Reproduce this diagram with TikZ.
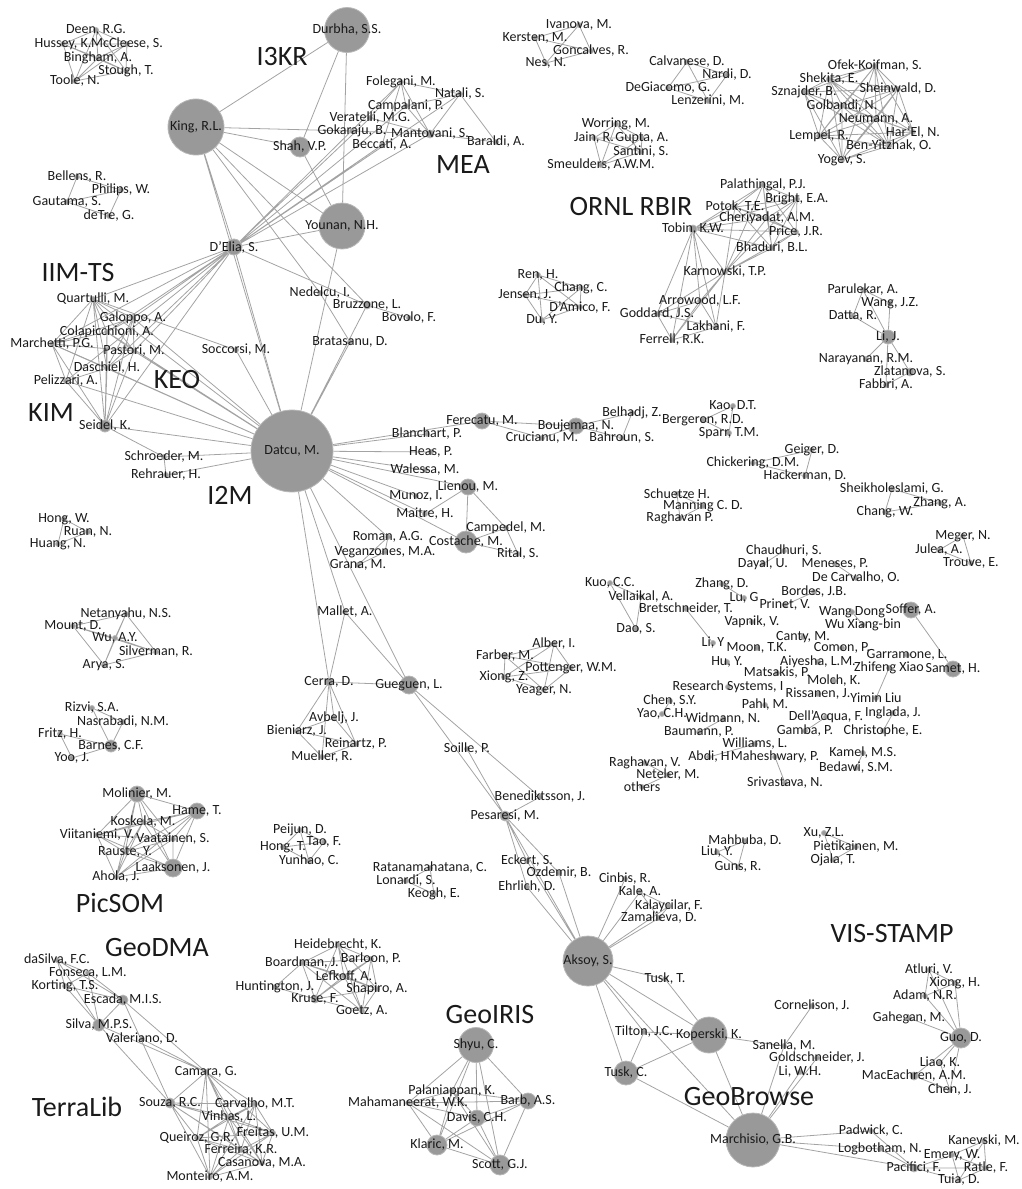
\documentclass[tikz,border=0pt]{standalone}
\usepackage{fontspec}
\setmainfont{Carlito}
\usetikzlibrary{backgrounds}
\definecolor{bubble}{HTML}{999999}
\definecolor{rim}{HTML}{B8B8B8}
\definecolor{wire}{HTML}{A3A3A3}
\definecolor{ink}{HTML}{1A1A1A}

\begin{document}
\begin{tikzpicture}[x=1pt, y=-1pt,
    au/.style={circle, fill=bubble, draw=rim, line width=0.8pt, inner sep=0pt, minimum size=5pt, label={[who]center:#1}},
    who/.style={font=\fontsize{14}{14}\selectfont, text=ink, inner sep=0pt},
    grp/.style={font=\fontsize{28}{28}\selectfont, text=ink, inner sep=0pt},
    link/.style={draw=wire, line width=0.8pt}
]
\useasboundingbox (0,0) rectangle (1022,1189);

% group names
\node[grp] (i3kr) at (282,57) {I3KR};
\node[grp] (mea) at (463,165) {MEA};
\node[grp] (ornl) at (631,207) {ORNL RBIR};
\node[grp] (iimts) at (78,273) {IIM-TS};
\node[grp] (keo) at (177,380) {KEO};
\node[grp] (kim) at (51,413) {KIM};
\node[grp] (i2m) at (230,495) {I2M};
\node[grp] (picsom) at (120,903) {PicSOM};
\node[grp] (geodma) at (157,947) {GeoDMA};
\node[grp] (terralib) at (77,1107) {TerraLib};
\node[grp] (geoiris) at (490,1014) {GeoIRIS};
\node[grp] (visstamp) at (892,933) {VIS-STAMP};
\node[grp] (geobrowse) at (749,1097) {GeoBrowse};

% top left
\node[au={Deen, R.G.}] (deen) at (96,30) {};
\node[au={Hussey, K.}] (huss) at (63,44) {};
\node[au={McCleese, S.}] (mccl) at (127,44) {};
\node[au={Bingham, A.}] (bing) at (98,58) {};
\node[au={Stough, T.}] (stou) at (126,71) {};
\node[au={Toole, N.}] (tool) at (75,81) {};
\node[au={Bellens, R.}] (bell) at (77,177) {};
\node[au={Philips, W.}] (phil) at (121,190) {};
\node[au={Gautama, S.}] (gaut) at (67,202) {};
\node[au={deTre, G.}] (detr) at (109,216) {};

% I3KR and MEA
\node[au={King, R.L.}, minimum size=56pt] (kin) at (196,127) {};
\node[au={Durbha, S.S.}, minimum size=45pt] (dur) at (347,30) {};
\node[au={Shah, V.P.}, minimum size=20pt] (sha) at (300,147) {};
\node[au={Younan, N.H.}, minimum size=46pt] (you) at (342,226) {};
\node[au={Gokaraju, B.}] (gok) at (352,131) {};
\node[au={Folegani, M.}] (fol) at (401,82) {};
\node[au={Natali, S.}] (nat) at (460,94) {};
\node[au={Campalani, P.}] (cmp) at (406,106) {};
\node[au={Veratelli, M.G.}] (ver) at (370,118) {};
\node[au={Mantovani, S.}, minimum size=8pt] (mnt) at (430,134) {};
\node[au={Baraldi, A.}] (bara) at (496,142) {};
\node[au={Beccati, A.}] (bec) at (382,145) {};
\node[au={Nedelcu, I.}] (ned) at (320,293) {};
\node[au={Bruzzone, L.}, minimum size=8pt] (bru) at (367,305) {};
\node[au={Bovolo, F.}] (bov) at (409,318) {};
\node[au={Bratasanu, D.}] (brt) at (350,342) {};
\node[au={D'Elia, S.}, minimum size=16pt] (del) at (234,247) {};

% IIM-TS, KEO, KIM
\node[au={Quartulli, M.}] (qua) at (93,299) {};
\node[au={Galoppo, A.}] (gal) at (133,318) {};
\node[au={Colapicchioni, A.}] (col) at (107,332) {};
\node[au={Marchetti, P.G.}] (mch) at (52,344) {};
\node[au={Pastori, M.}] (pas) at (134,351) {};
\node[au={Daschiel, H.}] (das) at (107,368) {};
\node[au={Pelizzari, A.}] (pel) at (66,381) {};
\node[au={Soccorsi, M.}] (soc) at (236,350) {};
\node[au={Seidel, K.}, minimum size=12pt] (sei) at (105,426) {};
\node[au={Schroeder, M.}] (sch) at (164,457) {};
\node[au={Rehrauer, H.}] (reh) at (166,475) {};

% I2M
\node[au={Datcu, M.}, minimum size=82pt] (dat) at (292,451) {};
\node[au={Ferecatu, M.}, minimum size=16pt] (fec) at (482,421) {};
\node[au={Blanchart, P.}] (bla) at (427,434) {};
\node[au={Heas, P.}] (hea) at (431,452) {};
\node[au={Walessa, M.}] (wal) at (425,470) {};
\node[au={Lienou, M.}, minimum size=16pt] (lie) at (468,487) {};
\node[au={Munoz, I.}] (mun) at (416,496) {};
\node[au={Maitre, H.}] (mai) at (425,514) {};
\node[au={Campedel, M.}] (cpd) at (506,528) {};
\node[au={Roman, A.G.}] (rom) at (388,537) {};
\node[au={Costache, M.}, minimum size=22pt] (cst) at (466,542) {};
\node[au={Rital, S.}] (rit) at (518,554) {};
\node[au={Veganzones, M.A.}] (veg) at (385,552) {};
\node[au={Grana, M.}] (gra) at (358,565) {};
\node[au={Boujemaa, N.}, minimum size=16pt] (bou) at (576,426) {};
\node[au={Crucianu, M.}] (cru) at (542,438) {};
\node[au={Belhadj, Z.}] (bel) at (632,413) {};
\node[au={Bahroun, S.}] (bah) at (622,438) {};
\node[au={Mallet, A.}] (mal) at (345,612) {};
\node[au={Cerra, D.}, minimum size=8pt] (cer) at (329,682) {};
\node[au={Gueguen, L.}, minimum size=18pt] (gue) at (409,685) {};
\node[au={Avbelj, J.}] (avb) at (334,718) {};
\node[au={Bieniarz, J.}] (bie) at (297,731) {};
\node[au={Reinartz, P.}] (rei) at (356,744) {};
\node[au={Mueller, R.}] (mue) at (322,757) {};
\node[au={Soille, P.}] (soi) at (467,749) {};

% top middle
\node[au={Ivanova, M.}] (iva) at (579,25) {};
\node[au={Kersten, M.}] (ker) at (535,38) {};
\node[au={Goncalves, R.}] (gon) at (591,51) {};
\node[au={Nes, N.}] (nes) at (546,63) {};
\node[au={Calvanese, D.}] (cal) at (687,62) {};
\node[au={Nardi, D.}] (nar) at (727,75) {};
\node[au={DeGiacomo, G.}] (deg) at (668,88) {};
\node[au={Lenzerini, M.}] (len) at (708,101) {};
\node[au={Worring, M.}] (wor) at (616,124) {};
\node[au={Jain, R.}] (jai) at (594,138) {};
\node[au={Gupta, A.}] (gup) at (642,138) {};
\node[au={Santini, S.}] (san) at (641,152) {};
\node[au={Smeulders, A.W.M.}] (sme) at (601,165) {};

% ORNL RBIR
\node[au={Palathingal, P.J.}] (pal) at (763,185) {};
\node[au={Bright, E.A.}] (bri) at (797,199) {};
\node[au={Potok, T.E.}] (pot) at (735,207) {};
\node[au={Cheriyadat, A.M.}] (che) at (767,218) {};
\node[au={Price, J.R.}] (pri) at (796,232) {};
\node[au={Bhaduri, B.L.}] (bha) at (772,248) {};
\node[au={Tobin, K.W.}, minimum size=8pt] (tob) at (693,229) {};
\node[au={Karnowski, T.P.}] (kar) at (725,272) {};
\node[au={Arrowood, L.F.}] (arr) at (700,301) {};
\node[au={Goddard, J.S.}] (god) at (657,314) {};
\node[au={Lakhani, F.}] (lak) at (716,327) {};
\node[au={Ferrell, R.K.}] (frl) at (672,340) {};
\node[au={Ren, H.}] (ren) at (538,275) {};
\node[au={Chang, C.}] (chc) at (581,288) {};
\node[au={Jensen, J.}] (jen) at (525,295) {};
\node[au={D'Amico, F.}] (dam) at (580,307) {};
\node[au={Du, Y.}] (duy) at (542,320) {};

% top right
\node[au={Ofek-Koifman, S.}] (ofe) at (875,66) {};
\node[au={Shekita, E.}] (shk) at (829,79) {};
\node[au={Sheinwald, D.}] (shw) at (898,89) {};
\node[au={Sznajder, B.}] (szn) at (804,92) {};
\node[au={Golbandi, N.}] (golb) at (842,106) {};
\node[au={Neumann, A.}] (neu) at (876,119) {};
\node[au={Har'El, N.}] (har) at (913,132) {};
\node[au={Lempel, R.}] (lem) at (819,136) {};
\node[au={Ben-Yitzhak, O.}] (bey) at (889,146) {};
\node[au={Yogev, S.}] (yog) at (842,160) {};
\node[au={Parulekar, A.}] (par) at (863,290) {};
\node[au={Wang, J.Z.}] (wjz) at (890,303) {};
\node[au={Datta, R.}] (dtt) at (853,316) {};
\node[au={Li, J.}, minimum size=14pt] (lij) at (888,337) {};
\node[au={Narayanan, R.M.}] (nry) at (866,359) {};
\node[au={Zlatanova, S.}, minimum size=8pt] (zla) at (910,372) {};
\node[au={Fabbri, A.}] (fab) at (886,385) {};

% middle right
\node[au={Kao, D.T.}] (kao) at (733,406) {};
\node[au={Bergeron, R.D.}] (brg) at (703,420) {};
\node[au={Sparr, T.M.}] (spa) at (729,433) {};
\node[au={Chickering, D.M.}] (chi) at (753,463) {};
\node[au={Geiger, D.}] (gei) at (812,450) {};
\node[au={Hackerman, D.}] (hac) at (805,476) {};
\node[au={Sheikholeslami, G.}] (shl) at (892,489) {};
\node[au={Zhang, A.}] (zan) at (940,503) {};
\node[au={Chang, W.}] (chw) at (885,512) {};
\node[au={Schuetze H.}] (scz) at (677,494) {};
\node[au={Manning C. D.}] (mnn) at (703,506) {};
\node[au={Raghavan P.}] (rgp) at (680,518) {};
\node[au={Meger, N.}] (meg) at (963,536) {};
\node[au={Julea, A.}] (jul) at (939,550) {};
\node[au={Trouve, E.}] (tro) at (971,563) {};
\node[au={Chaudhuri, S.}] (chau) at (784,551) {};
\node[au={Dayal, U.}] (day) at (763,564) {};
\node[au={Meneses, P.}] (men) at (835,564) {};
\node[au={De Carvalho, O.}] (dec) at (856,578) {};
\node[au={Kuo, C.C.}] (kuo) at (610,583) {};
\node[au={Vellaikal, A.}] (vel) at (641,597) {};
\node[au={Dao, S.}] (dao) at (636,629) {};
\node[au={Zhang, D.}] (zhd) at (722,584) {};
\node[au={Lu, G}] (lug) at (744,598) {};
\node[au={Bordes, J.B.}] (bor) at (814,592) {};
\node[au={Prinet, V.}] (prn) at (785,605) {};
\node[au={Bretschneider, T.}] (bre) at (686,609) {};
\node[au={Vapnik, V.}] (vap) at (752,622) {};
\node[au={Wang Dong}] (wdo) at (852,612) {};
\node[au={Wu Xiang-bin}] (wux) at (863,625) {};
\node[au={Soffer, A.}, minimum size=16pt] (sof) at (911,610) {};
\node[au={Samet, H.}, minimum size=16pt] (sam) at (953,669) {};
\node[au={Canty, M.}] (can) at (803,637) {};
\node[au={Li, Y}] (liy) at (713,643) {};
\node[au={Moon, T.K.}] (moo) at (757,648) {};
\node[au={Comon, P.}] (com) at (842,648) {};
\node[au={Garramone, L.}] (gar) at (907,655) {};
\node[au={Hu, Y.}] (huy) at (727,662) {};
\node[au={Aiyesha, L.M.}] (aiy) at (818,662) {};
\node[au={Zhifeng Xiao}] (zfx) at (889,668) {};
\node[au={Matsakis, P.}] (mat) at (777,673) {};
\node[au={Molch, K.}] (mlc) at (834,681) {};
\node[au={Research Systems, I}] (res) at (728,687) {};
\node[au={Rissanen, J.}] (ris) at (818,694) {};
\node[au={Yimin Liu}] (yml) at (876,698) {};
\node[au={Chen, S.Y.}] (csy) at (670,701) {};
\node[au={Pahl, M.}] (pahl) at (765,705) {};
\node[au={Yao, C.H.}] (yao) at (662,714) {};
\node[au={Inglada, J.}] (ing) at (893,713) {};
\node[au={Dell'Acqua, F.}] (dla) at (826,717) {};
\node[au={Widmann, N.}] (wid) at (723,719) {};
\node[au={Gamba, P.}] (gam) at (805,731) {};
\node[au={Christophe, E.}] (chr) at (883,731) {};
\node[au={Baumann, P.}] (bau) at (699,732) {};
\node[au={Williams, L.}] (wil) at (755,744) {};
\node[au={Kamel, M.S.}] (kam) at (863,753) {};
\node[au={Abdi, H}] (abd) at (709,757) {};
\node[au={Maheshwary, P.}] (mah) at (775,757) {};
\node[au={Raghavan, V.}] (rgv) at (645,763) {};
\node[au={Bedawi, S.M.}] (bed) at (856,768) {};
\node[au={Neteler, M.}] (net) at (668,775) {};
\node[au={Srivastava, N.}] (sri) at (785,783) {};
\node[au={others}] (oth) at (642,787) {};
\node[au={Alber, I.}] (alb) at (554,644) {};
\node[au={Farber, M.}] (far) at (505,656) {};
\node[au={Pottenger, W.M.}] (ptg) at (571,668) {};
\node[au={Xiong, Z.}] (xio) at (504,677) {};
\node[au={Yeager, N.}] (yea) at (544,690) {};

% lower left
\node[au={Hong, W.}] (hon) at (64,519) {};
\node[au={Ruan, N.}] (rua) at (88,532) {};
\node[au={Huang, N.}] (hua) at (58,544) {};
\node[au={Netanyahu, N.S.}] (nty) at (126,614) {};
\node[au={Mount, D.}] (mou) at (73,626) {};
\node[au={Wu, A.Y.}] (wua) at (115,638) {};
\node[au={Silverman, R.}] (slm) at (156,652) {};
\node[au={Arya, S.}] (ary) at (104,665) {};
\node[au={Rizvi, S.A.}] (riz) at (92,708) {};
\node[au={Nasrabadi, N.M.}] (nas) at (123,722) {};
\node[au={Fritz, H.}] (fri) at (60,734) {};
\node[au={Barnes, C.F.}, minimum size=12pt] (brn) at (111,746) {};
\node[au={Yoo, J.}] (yoo) at (72,758) {};

% PicSOM
\node[au={Molinier, M.}, minimum size=16pt] (mol) at (137,794) {};
\node[au={Hame, T.}, minimum size=16pt] (ham) at (197,811) {};
\node[au={Koskela, M.}] (kos) at (143,822) {};
\node[au={Viitaniemi, V.}] (vii) at (97,835) {};
\node[au={Vaatainen, S.}] (vaa) at (173,839) {};
\node[au={Rauste, Y.}] (rau) at (125,852) {};
\node[au={Laaksonen, J.}, minimum size=18pt] (laa) at (173,868) {};
\node[au={Ahola, J.}] (aho) at (116,877) {};

% GeoDMA and TerraLib
\node[au={daSilva, F.C.}] (dsf) at (57,960) {};
\node[au={Fonseca, L.M.}] (fon) at (88,973) {};
\node[au={Korting, T.S.}] (kor) at (65,986) {};
\node[au={Escada, M.I.S.}, minimum size=10pt] (esc) at (123,1000) {};
\node[au={Silva, M.P.S.}, minimum size=12pt] (slv) at (99,1025) {};
\node[au={Valeriano, D.}] (val) at (142,1039) {};
\node[au={Camara, G.}] (cam) at (206,1072) {};
\node[au={Souza, R.C.}, minimum size=10pt] (sou) at (170,1103) {};
\node[au={Carvalho, M.T.}] (car) at (255,1104) {};
\node[au={Vinhas, L.}] (vin) at (229,1117) {};
\node[au={Freitas, U.M.}] (fre) at (273,1133) {};
\node[au={Queiroz, G.R.}] (que) at (197,1138) {};
\node[au={Ferreira, K.R.}] (fer) at (241,1150) {};
\node[au={Casanova, M.A.}] (cas) at (262,1163) {};
\node[au={Monteiro, A.M.}] (mon) at (210,1177) {};

% lower middle
\node[au={Peijun, D.}] (pei) at (300,830) {};
\node[au={Hong, T.}] (hot) at (283,847) {};
\node[au={Tao, F.}] (tao) at (324,842) {};
\node[au={Yunhao, C.}] (yun) at (309,861) {};
\node[au={Ratanamahatana, C.}] (rat) at (430,868) {};
\node[au={Lonardi, S.}] (lon) at (406,881) {};
\node[au={Keogh, E.}] (keg) at (434,894) {};
\node[au={Heidebrecht, K.}] (hei) at (338,945) {};
\node[au={Boardman, J.}] (boa) at (302,963) {};
\node[au={Barloon, P.}] (brl) at (371,959) {};
\node[au={Lefkoff, A.}] (lef) at (344,976) {};
\node[au={Huntington, J.}] (hun) at (275,987) {};
\node[au={Shapiro, A.}] (shp) at (377,989) {};
\node[au={Kruse, F.}, minimum size=8pt] (kru) at (315,999) {};
\node[au={Goetz, A.}] (goe) at (362,1011) {};

% GeoIRIS
\node[au={Shyu, C.}, minimum size=35pt] (shy) at (476,1045) {};
\node[au={Palaniappan, K.}] (pln) at (452,1091) {};
\node[au={Mahamaneerat, W.K.}] (mhm) at (408,1103) {};
\node[au={Barb, A.S.}, minimum size=16pt] (bab) at (528,1101) {};
\node[au={Davis, C.H.}, minimum size=16pt] (dav) at (477,1118) {};
\node[au={Klaric, M.}, minimum size=20pt] (kla) at (437,1145) {};
\node[au={Scott, G.J.}, minimum size=20pt] (sco) at (500,1165) {};

% Aksoy and GeoBrowse
\node[au={Benediktsson, J.}] (ben) at (540,797) {};
\node[au={Pesaresi, M.}, minimum size=10pt] (pes) at (505,816) {};
\node[au={Eckert, S.}] (eck) at (527,861) {};
\node[au={Ozdemir, B.}] (ozd) at (559,873) {};
\node[au={Ehrlich, D.}] (ehr) at (527,887) {};
\node[au={Cinbis, R.}] (cin) at (625,879) {};
\node[au={Kale, A.}] (kle) at (640,892) {};
\node[au={Kalaycilar, F.}] (kly) at (669,906) {};
\node[au={Zamalieva, D.}] (zam) at (659,918) {};
\node[au={Aksoy, S.}, minimum size=50pt] (aks) at (588,961) {};
\node[au={Tusk, T.}] (tut) at (665,979) {};
\node[au={Tilton, J.C.}] (til) at (644,1032) {};
\node[au={Koperski, K.}, minimum size=36pt] (kop) at (709,1035) {};
\node[au={Tusk, C.}, minimum size=24pt] (tuc) at (626,1073) {};
\node[au={Marchisio, G.B.}, minimum size=54pt] (mar) at (753,1140) {};
\node[au={Cornelison, J.}] (cor) at (812,1006) {};
\node[au={Sanella, M.}] (snl) at (784,1046) {};
\node[au={Goldschneider, J.}] (gsc) at (817,1058) {};
\node[au={Li, W.H.}] (liw) at (800,1072) {};
\node[au={Padwick, C.}] (pad) at (871,1131) {};
\node[au={Kanevski, M.}] (kan) at (984,1141) {};
\node[au={Logbotham, N.}] (log) at (880,1149) {};
\node[au={Emery, W.}] (eme) at (952,1155) {};
\node[au={Pacifici, F.}, minimum size=8pt] (pac) at (914,1168) {};
\node[au={Ratle, F.}] (rtl) at (986,1168) {};
\node[au={Tuia, D.}] (tui) at (959,1180) {};
\node[au={Mahbuba, D.}] (mhb) at (745,841) {};
\node[au={Liu, Y.}] (liu) at (717,852) {};
\node[au={Guns, R.}] (gun) at (738,867) {};
\node[au={Xu, Z.L.}] (xzl) at (824,833) {};
\node[au={Pietikainen, M.}] (pie) at (856,847) {};
\node[au={Ojala, T.}] (oja) at (833,860) {};

% VIS-STAMP
\node[au={Atluri, V.}] (atl) at (929,970) {};
\node[au={Xiong, H.}] (xih) at (955,983) {};
\node[au={Adam, N.R.}] (ada) at (925,996) {};
\node[au={Gahegan, M.}] (gah) at (909,1018) {};
\node[au={Guo, D.}, minimum size=20pt] (guo) at (961,1038) {};
\node[au={Liao, K.}] (lia) at (940,1063) {};
\node[au={MacEachren, A.M.}, minimum size=8pt] (mac) at (914,1076) {};
\node[au={Chen, J.}] (chj) at (950,1090) {};

\begin{scope}[on background layer]
% top left
\draw[link] (deen)--(huss) (deen)--(mccl) (deen)--(bing) (deen)--(stou) (deen)--(tool)
  (huss)--(mccl) (huss)--(bing) (huss)--(stou) (huss)--(tool) (mccl)--(bing) (mccl)--(stou)
  (mccl)--(tool) (bing)--(stou) (bing)--(tool) (stou)--(tool);
\draw[link] (bell)--(phil) (bell)--(gaut) (gaut)--(phil) (gaut)--(detr) (phil)--(detr);
% I3KR, MEA
\draw[link] (kin)--(dur) (kin)--(sha) (kin)--(you) (kin)--(del) (kin)--(dat) (kin)--(gok)
  (kin)--(bru) (kin)--(ned) (ned)--(brt) (dur)--(sha) (dur)--(you) (sha)--(you);
\draw[link] (del)--(fol) (del)--(nat) (del)--(cmp) (del)--(ver) (del)--(mnt) (del)--(bec)
  (del)--(you) (del)--(dat) (del)--(bru);
\draw[link] (fol)--(nat) (fol)--(cmp) (fol)--(mnt) (fol)--(ver) (fol)--(bec) (nat)--(cmp)
  (nat)--(mnt) (nat)--(bara) (mnt)--(bara) (cmp)--(mnt) (ver)--(mnt) (gok)--(mnt);
\draw[link] (you)--(dat) (bru)--(bov) (bru)--(dat) (brt)--(dat);
% IIM-TS, KEO, KIM
\draw[link] (qua)--(gal) (qua)--(col) (qua)--(mch) (qua)--(pas) (qua)--(das) (qua)--(pel)
  (qua)--(sei) (gal)--(col) (gal)--(pas) (gal)--(das) (gal)--(sei) (gal)--(mch)
  (col)--(mch) (col)--(pas) (col)--(das) (col)--(sei) (mch)--(pas) (mch)--(das) (mch)--(pel)
  (mch)--(sei) (pas)--(das) (pas)--(sei) (das)--(pel) (das)--(sei) (pel)--(sei);
\draw[link] (del)--(qua) (del)--(gal) (del)--(col) (del)--(mch) (del)--(pas) (del)--(das)
  (del)--(pel) (del)--(sei);
\draw[link] (dat)--(qua) (dat)--(gal) (dat)--(col) (dat)--(mch) (dat)--(pas) (dat)--(das)
  (dat)--(pel) (dat)--(sei) (dat)--(soc) (dat)--(sch) (dat)--(reh) (sei)--(sch) (sch)--(reh)
  (soc)--(qua);
% I2M
\draw[link] (dat)--(fec) (dat)--(bla) (dat)--(hea) (dat)--(wal) (dat)--(lie) (dat)--(mun)
  (dat)--(mai) (dat)--(cst) (dat)--(rom) (dat)--(cer) (dat)--(mal) (dat)--(gue);
\draw[link] (fec)--(bou) (fec)--(cru) (bou)--(cru) (bou)--(bel) (bou)--(bah) (bel)--(bah);
\draw[link] (lie)--(cst) (lie)--(cpd) (lie)--(mai) (cst)--(cpd) (cst)--(rit) (cpd)--(rit)
  (rom)--(veg) (rom)--(gra) (veg)--(gra);
\draw[link] (mal)--(cer) (mal)--(gue) (cer)--(gue) (cer)--(avb) (cer)--(bie) (cer)--(rei)
  (cer)--(mue) (avb)--(bie) (avb)--(rei) (bie)--(rei) (bie)--(mue) (rei)--(mue);
\draw[link] (gue)--(pes) (gue)--(ben) (soi)--(pes);
% top middle
\draw[link] (iva)--(ker) (iva)--(gon) (iva)--(nes) (ker)--(gon) (ker)--(nes) (gon)--(nes);
\draw[link] (cal)--(nar) (cal)--(deg) (cal)--(len) (nar)--(deg) (nar)--(len) (deg)--(len);
\draw[link] (wor)--(jai) (wor)--(gup) (wor)--(san) (wor)--(sme) (jai)--(gup) (jai)--(san)
  (jai)--(sme) (gup)--(san) (gup)--(sme) (san)--(sme);
\draw[link] (tob)--(pal) (tob)--(bri) (tob)--(pot) (tob)--(che) (tob)--(pri) (tob)--(bha)
  (tob)--(kar) (tob)--(arr) (tob)--(god) (tob)--(lak) (tob)--(frl);
\draw[link] (kar)--(pal) (kar)--(bri) (kar)--(pot) (kar)--(che) (kar)--(pri) (kar)--(bha)
  (kar)--(arr) (kar)--(god) (kar)--(lak) (kar)--(frl);
\draw[link] (pal)--(bri) (pal)--(pot) (pal)--(che) (pal)--(pri) (pal)--(bha) (bri)--(pot)
  (bri)--(che) (bri)--(pri) (bri)--(bha) (pot)--(che) (pot)--(pri) (pot)--(bha) (che)--(pri)
  (che)--(bha) (pri)--(bha);
\draw[link] (arr)--(god) (arr)--(lak) (arr)--(frl) (god)--(lak) (god)--(frl) (lak)--(frl);
\draw[link] (ren)--(chc) (ren)--(jen) (ren)--(dam) (ren)--(duy) (chc)--(jen) (chc)--(dam)
  (chc)--(duy) (jen)--(dam) (jen)--(duy) (dam)--(duy);
% top right
\draw[link] (ofe)--(shk) (ofe)--(shw) (ofe)--(szn) (ofe)--(golb) (ofe)--(neu) (ofe)--(har)
  (ofe)--(lem) (ofe)--(bey) (ofe)--(yog) (shk)--(shw) (shk)--(szn) (shk)--(golb) (shk)--(neu)
  (shk)--(har) (shk)--(lem) (shk)--(bey) (shk)--(yog) (shw)--(szn) (shw)--(golb) (shw)--(neu)
  (shw)--(har) (shw)--(lem) (shw)--(bey) (shw)--(yog) (szn)--(golb) (szn)--(neu) (szn)--(har)
  (szn)--(lem) (szn)--(bey) (szn)--(yog) (golb)--(neu) (golb)--(har) (golb)--(lem)
  (golb)--(bey) (golb)--(yog) (neu)--(har) (neu)--(lem) (neu)--(bey) (neu)--(yog)
  (har)--(lem) (har)--(bey) (har)--(yog) (lem)--(bey) (lem)--(yog) (bey)--(yog);
\draw[link] (par)--(wjz) (par)--(dtt) (par)--(lij) (wjz)--(lij) (dtt)--(lij) (lij)--(nry)
  (lij)--(zla) (lij)--(fab) (zla)--(fab);
% middle right
\draw[link] (kao)--(brg) (kao)--(spa) (brg)--(spa) (chi)--(gei) (chi)--(hac) (gei)--(hac)
  (shl)--(zan) (shl)--(chw) (zan)--(chw) (scz)--(mnn) (scz)--(rgp) (mnn)--(rgp)
  (meg)--(jul) (meg)--(tro) (jul)--(tro);
\draw[link] (chau)--(day) (men)--(dec) (kuo)--(vel) (kuo)--(dao) (vel)--(dao) (zhd)--(lug)
  (bor)--(prn) (bre)--(liy) (wdo)--(wux) (sof)--(sam) (zfx)--(yml) (csy)--(yao) (wid)--(bau)
  (dla)--(gam) (ing)--(chr) (wil)--(abd) (mah)--(sri) (kam)--(bed) (rgv)--(net) (net)--(oth);
\draw[link] (alb)--(far) (alb)--(ptg) (alb)--(xio) (alb)--(yea) (far)--(ptg) (far)--(xio)
  (far)--(yea) (ptg)--(xio) (ptg)--(yea) (xio)--(yea);
% lower left
\draw[link] (hon)--(rua) (hon)--(hua) (rua)--(hua);
\draw[link] (nty)--(mou) (nty)--(slm) (nty)--(ary) (nty)--(wua) (mou)--(wua) (mou)--(slm)
  (mou)--(ary) (wua)--(slm) (wua)--(ary) (slm)--(ary);
\draw[link] (riz)--(nas) (riz)--(brn) (nas)--(brn) (fri)--(brn) (fri)--(yoo) (yoo)--(brn);
\draw[link] (mol)--(ham) (mol)--(kos) (mol)--(vii) (mol)--(vaa) (mol)--(rau) (mol)--(laa)
  (mol)--(aho) (ham)--(kos) (ham)--(vii) (ham)--(vaa) (ham)--(rau) (ham)--(laa) (ham)--(aho)
  (kos)--(vii) (kos)--(vaa) (kos)--(rau) (kos)--(laa) (kos)--(aho) (vii)--(vaa) (vii)--(rau)
  (vii)--(laa) (vii)--(aho) (vaa)--(rau) (vaa)--(laa) (vaa)--(aho) (rau)--(laa) (rau)--(aho)
  (laa)--(aho);
% GeoDMA, TerraLib
\draw[link] (dsf)--(fon) (dsf)--(kor) (dsf)--(esc) (dsf)--(slv) (fon)--(kor) (fon)--(esc)
  (fon)--(slv) (kor)--(esc) (kor)--(slv) (esc)--(slv) (esc)--(sou) (esc)--(cam) (slv)--(cam)
  (slv)--(sou) (val)--(cam);
\draw[link] (cam)--(sou) (cam)--(car) (cam)--(vin) (cam)--(que) (cam)--(fre) (cam)--(fer)
  (cam)--(cas) (cam)--(mon) (sou)--(car) (sou)--(vin) (sou)--(que) (sou)--(fre) (sou)--(fer)
  (sou)--(cas) (sou)--(mon) (car)--(vin) (car)--(que) (car)--(fre) (car)--(fer) (car)--(cas)
  (car)--(mon) (vin)--(que) (vin)--(fre) (vin)--(fer) (vin)--(cas) (vin)--(mon) (que)--(fre)
  (que)--(fer) (que)--(cas) (que)--(mon) (fre)--(fer) (fre)--(cas) (fre)--(mon) (fer)--(cas)
  (fer)--(mon) (cas)--(mon);
% lower middle
\draw[link] (pei)--(hot) (pei)--(tao) (pei)--(yun) (hot)--(tao) (hot)--(yun) (tao)--(yun)
  (rat)--(lon) (rat)--(keg) (lon)--(keg);
\draw[link] (hei)--(boa) (hei)--(brl) (hei)--(lef) (hei)--(kru) (hei)--(shp) (hei)--(goe)
  (boa)--(brl) (boa)--(lef) (boa)--(hun) (boa)--(kru) (boa)--(shp) (boa)--(goe) (brl)--(lef)
  (brl)--(shp) (brl)--(goe) (brl)--(kru) (lef)--(kru) (lef)--(shp) (lef)--(goe) (hun)--(kru)
  (kru)--(shp) (kru)--(goe) (shp)--(goe);
\draw[link] (shy)--(pln) (shy)--(mhm) (shy)--(dav) (shy)--(bab) (shy)--(kla) (shy)--(sco)
  (pln)--(mhm) (pln)--(dav) (pln)--(bab) (pln)--(kla) (pln)--(sco) (mhm)--(dav) (mhm)--(kla)
  (mhm)--(sco) (mhm)--(bab) (dav)--(bab) (dav)--(kla) (dav)--(sco) (bab)--(kla) (bab)--(sco)
  (kla)--(sco);
% Aksoy, GeoBrowse
\draw[link] (pes)--(ben) (pes)--(eck) (pes)--(ozd) (pes)--(ehr) (pes)--(aks) (aks)--(eck)
  (aks)--(ozd) (aks)--(ehr) (aks)--(cin) (aks)--(kle) (aks)--(kly) (aks)--(zam) (kle)--(kly)
  (kle)--(zam) (kly)--(zam);
\draw[link] (aks)--(tut) (aks)--(kop) (aks)--(tuc) (aks)--(mar) (aks)--(til) (tut)--(kop)
  (til)--(tuc) (til)--(kop) (tuc)--(kop) (tuc)--(mar) (kop)--(mar) (kop)--(snl);
\draw[link] (mar)--(snl) (mar)--(gsc) (mar)--(liw) (snl)--(cor) (mar)--(pad) (mar)--(log)
  (mar)--(pac) (pad)--(pac) (log)--(pac) (pac)--(eme) (pac)--(rtl) (pac)--(tui) (eme)--(kan)
  (eme)--(rtl) (eme)--(tui) (kan)--(rtl) (kan)--(tui) (rtl)--(tui);
\draw[link] (mhb)--(liu) (mhb)--(gun) (liu)--(gun) (xzl)--(pie) (xzl)--(oja) (pie)--(oja);
% VIS-STAMP
\draw[link] (guo)--(atl) (guo)--(xih) (guo)--(ada) (guo)--(gah) (guo)--(lia) (guo)--(mac)
  (guo)--(chj) (atl)--(xih) (atl)--(ada) (xih)--(ada) (mac)--(chj) (lia)--(chj);
\end{scope}
\end{tikzpicture}
\end{document}
